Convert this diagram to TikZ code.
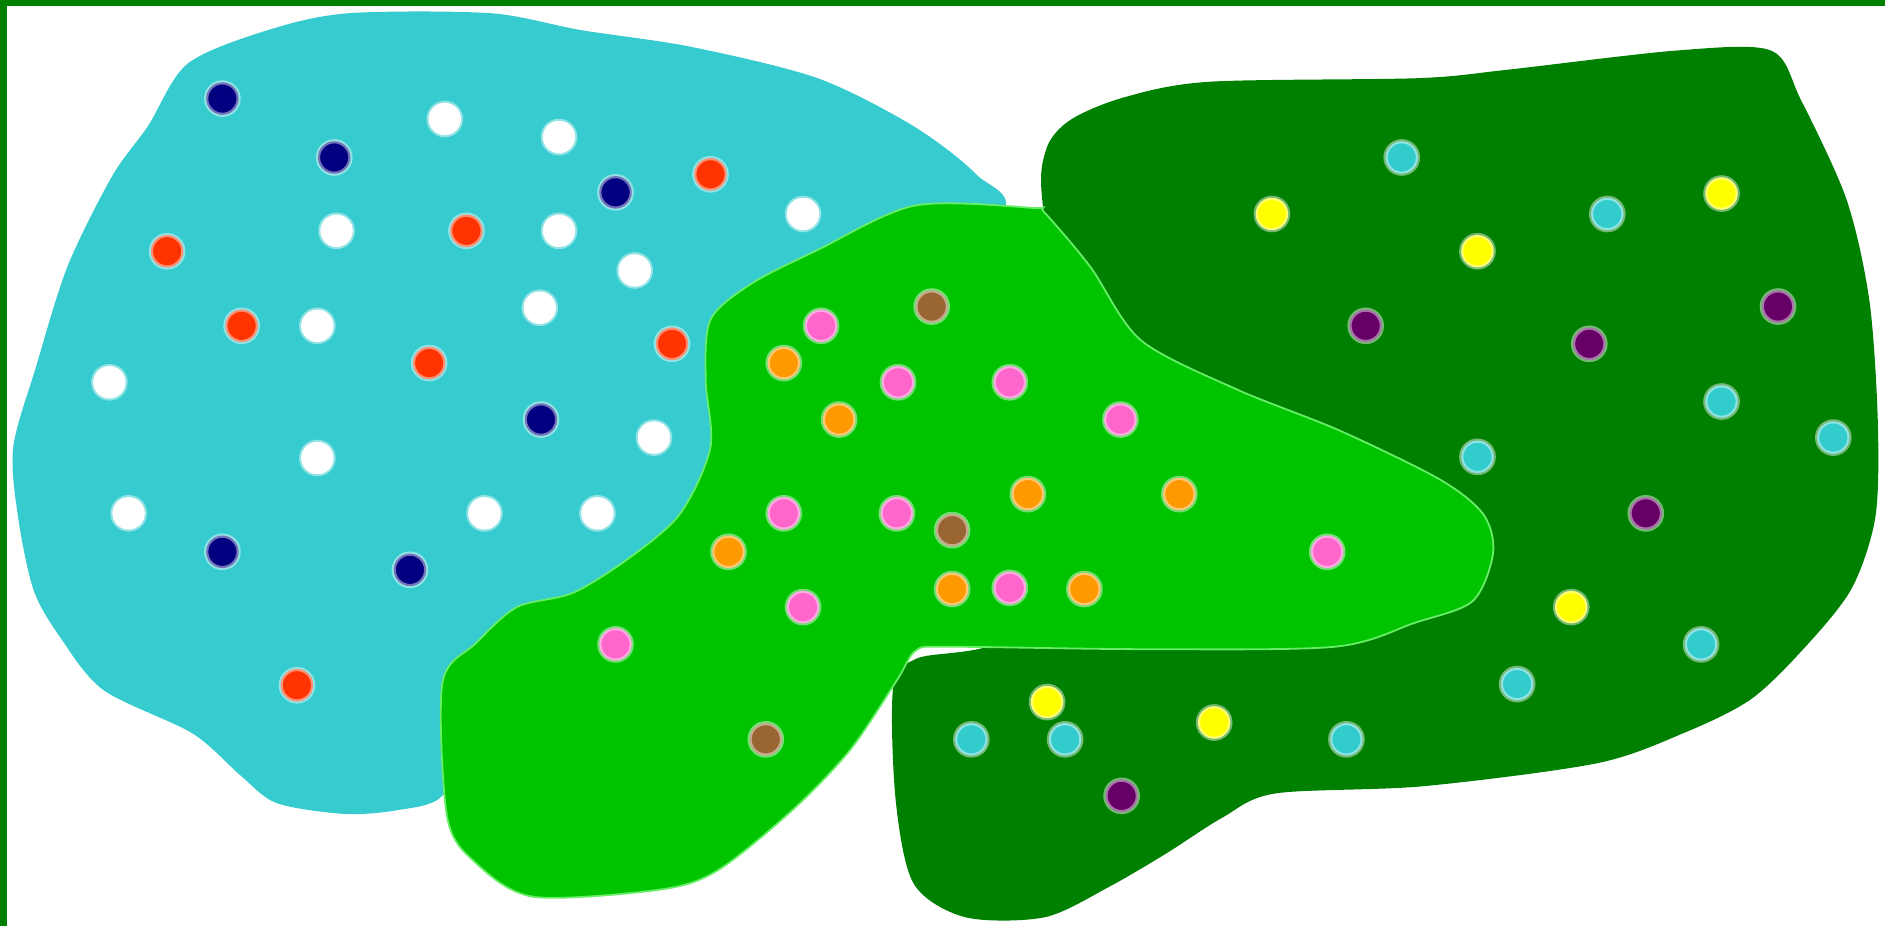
\documentclass[tikz,border=0pt]{standalone}
\usepackage{xcolor}
\usepackage{tikz}
\definecolor{SkyBlob}{HTML}{36CBCF}
\definecolor{LeafBlob}{HTML}{00C400}
\definecolor{ForestBlob}{HTML}{008000}
\definecolor{LeafEdge}{HTML}{66EE66}
\definecolor{NavyDot}{HTML}{000080}
\definecolor{RedDot}{HTML}{FF3300}
\definecolor{PinkDot}{HTML}{FF66CC}
\definecolor{OrangeDot}{HTML}{FF9900}
\definecolor{BrownDot}{HTML}{996633}
\definecolor{YellowDot}{HTML}{FFFF00}
\definecolor{PurpleDot}{HTML}{660066}
\definecolor{CyanDot}{HTML}{33CCCC}
\tikzset{
  blob/.style={smooth cycle, tension=0.5},
  dot/.style={circle, fill=#1, draw=white, draw opacity=0.45, line width=0.35mm,
    minimum size=2.7mm, inner sep=0pt}
}

\begin{document}
\begin{tikzpicture}[x=0.1mm, y=-0.1mm]
\useasboundingbox (0,0) rectangle (1568,770);

% frame: top and left edges only
\fill[ForestBlob] (0,0) rectangle (1568,5);
\fill[ForestBlob] (0,0) rectangle (6,770);

% left region
\fill[SkyBlob] plot[blob] coordinates {(11,372) (30,305) (56,222) (93,147) (123,105)
  (156,53) (223,25) (290,11) (408,11) (483,25) (575,39) (680,65) (760,105) (812,145)
  (832,180) (700,280) (620,420) (470,530) (390,610) (368,662) (330,674) (286,677)
  (230,668) (200,645) (160,610) (86,574) (50,530) (28,491) (15,430)};

% right region
\fill[ForestBlob] plot[blob] coordinates {(868,175) (870,125) (890,100) (935,81)
  (1006,68) (1180,65) (1254,58) (1395,42) (1473,42) (1498,83) (1536,166) (1555,250)
  (1562,350) (1560,430) (1540,490) (1500,540) (1456,582) (1400,610) (1328,635)
  (1184,654) (1061,660) (1017,680) (970,710) (922,738) (869,763) (803,763) (760,735)
  (745,665) (743,572) (762,548) (850,520) (900,350)};

% middle region, on top
\filldraw[fill=LeafBlob, draw=LeafEdge, line width=0.15mm] plot[blob] coordinates {
  (761,171) (860,173) (869,177) (907,222) (949,283) (1029,324) (1114,358) (1198,399)
  (1234,428) (1242,460) (1225,500) (1177,518) (1110,538) (950,540) (790,538) (762,541)
  (746,566) (707,624) (659,674) (597,724) (549,740) (444,746) (396,718)
  (372,680) (368,568) (396,535) (430,505) (477,493) (525,463) (566,427) (591,372)
  (587,316) (591,266) (625,236) (680,208)};

% dots of the left region
\foreach \x/\y [count=\i] in {185/82, 278/131, 512/160, 450/349, 185/459, 341/474}
  \node[dot=NavyDot] (navy\i) at (\x,\y) {};
\foreach \x/\y [count=\i] in {370/99, 465/114, 280/192, 465/192, 528/225, 449/256,
  264/271, 91/318, 544/364, 264/381, 107/427, 403/427, 497/427, 668/178}
  \node[dot=white] (white\i) at (\x,\y) {};
\foreach \x/\y [count=\i] in {591/145, 139/209, 388/192, 201/271, 357/302, 559/286, 247/570}
  \node[dot=RedDot] (red\i) at (\x,\y) {};

% dots of the middle region
\foreach \x/\y [count=\i] in {683/271, 747/318, 840/318, 932/349, 652/427, 746/427,
  668/505, 840/489, 1104/459, 512/536}
  \node[dot=PinkDot] (pink\i) at (\x,\y) {};
\foreach \x/\y [count=\i] in {652/302, 698/349, 855/411, 981/411, 606/459, 792/490, 902/490}
  \node[dot=OrangeDot] (orange\i) at (\x,\y) {};
\foreach \x/\y [count=\i] in {775/255, 792/441, 637/615}
  \node[dot=BrownDot] (brown\i) at (\x,\y) {};

% dots of the right region
\foreach \x/\y [count=\i] in {1166/131, 1337/178, 1432/334, 1525/364, 1229/380,
  1415/536, 1262/569, 808/615, 886/615, 1120/615}
  \node[dot=CyanDot] (cyan\i) at (\x,\y) {};
\foreach \x/\y [count=\i] in {1058/178, 1432/161, 1229/209, 1307/505, 871/584, 1010/601}
  \node[dot=YellowDot] (yellow\i) at (\x,\y) {};
\foreach \x/\y [count=\i] in {1136/271, 1322/286, 1479/255, 1369/427, 933/662}
  \node[dot=PurpleDot] (purple\i) at (\x,\y) {};
\end{tikzpicture}
\end{document}
